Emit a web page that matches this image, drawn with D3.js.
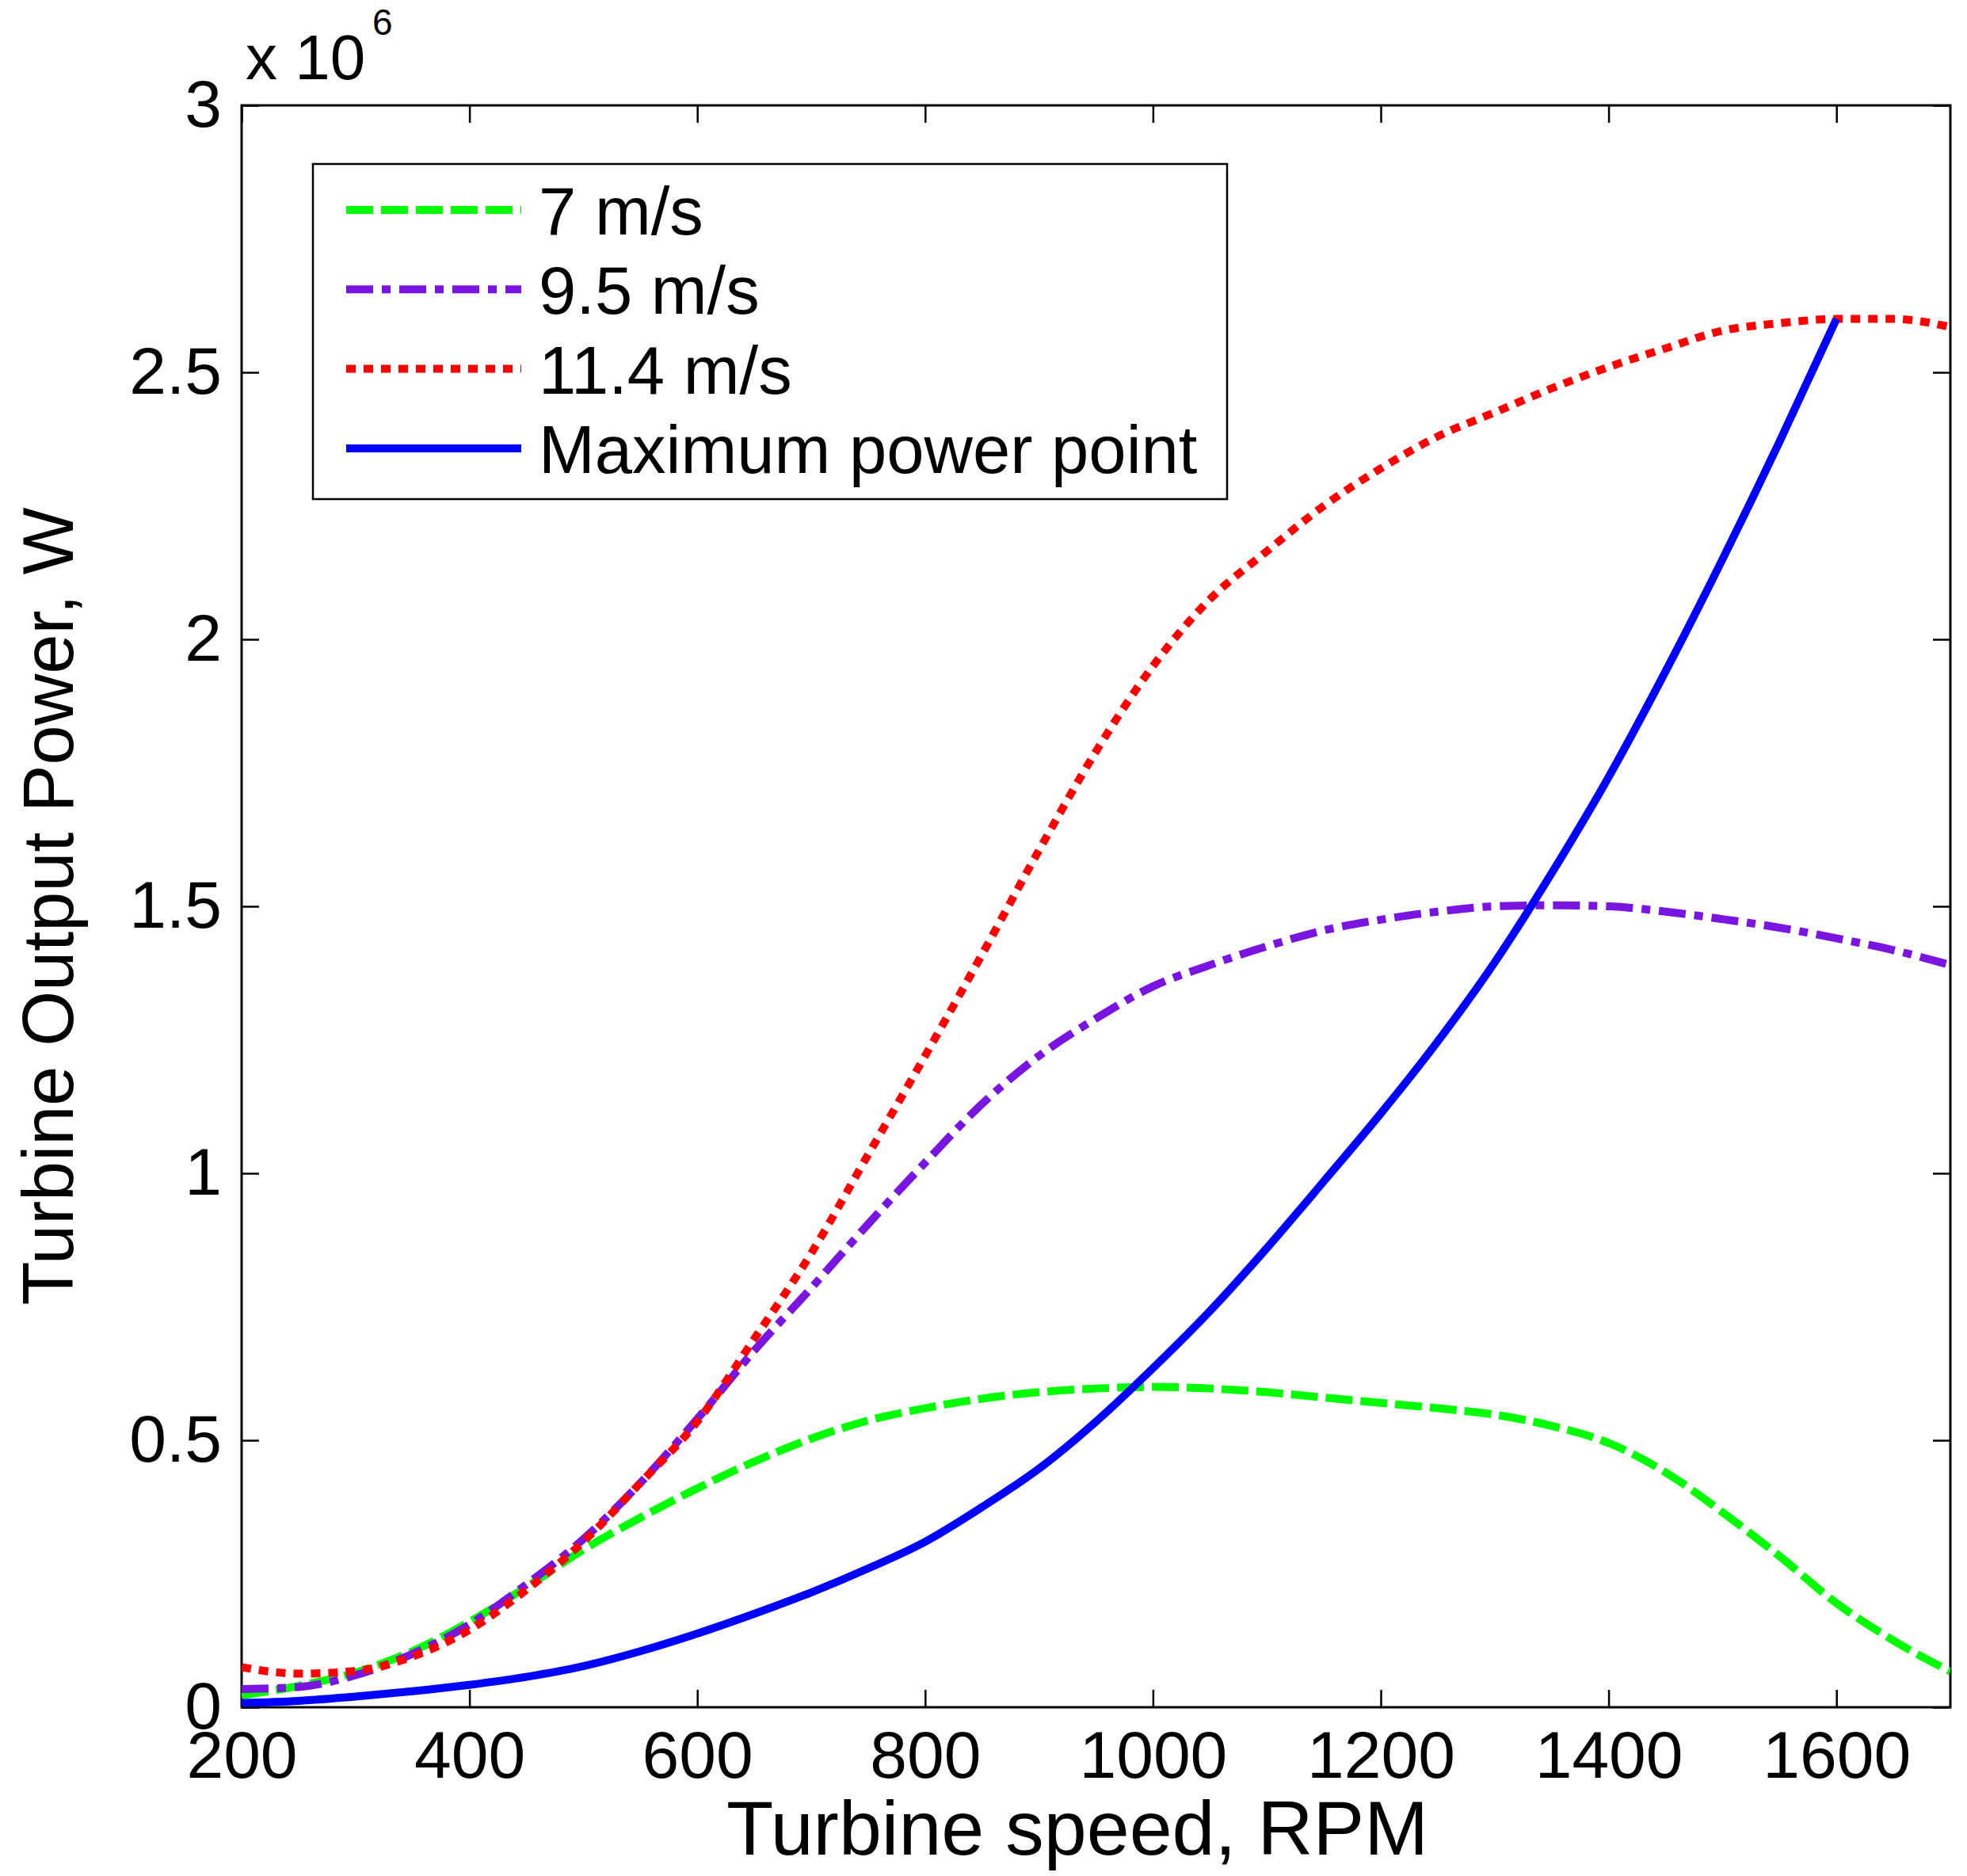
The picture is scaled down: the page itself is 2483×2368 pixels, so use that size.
<!DOCTYPE html>
<html>
<head>
<meta charset="utf-8">
<script src="https://cdn.jsdelivr.net/npm/d3@7"></script>
<style>
	body { margin: 0; background: #fff; }
	svg { display: block; font-family: "Liberation Sans", Arial, Helvetica, sans-serif; }
	.tick line { stroke: #000; stroke-width: 2.5; }
	.tick text { fill: #000; }
</style>
</head>
<body>
<svg id="chart"></svg>
<script>
// turbine speed, RPM (shared by the three wind-speed curves)
const rpm = [200, 250, 300, 350, 400, 450, 500, 550, 600, 650, 700, 750, 800, 850, 900, 950,
	1000, 1050, 1100, 1150, 1200, 1250, 1300, 1350, 1400, 1450, 1500, 1550, 1600, 1650, 1700];

// output power, x 10^6 W
const power7 = [0.022, 0.040, 0.065, 0.105, 0.160, 0.225, 0.295, 0.355, 0.410, 0.460, 0.503, 0.537, 0.560, 0.578, 0.590, 0.597,
	0.600, 0.597, 0.590, 0.580, 0.570, 0.560, 0.548, 0.527, 0.495, 0.440, 0.365, 0.283, 0.195, 0.125, 0.067];
const power95 = [0.034, 0.038, 0.060, 0.100, 0.155, 0.230, 0.315, 0.420, 0.540, 0.668, 0.785, 0.905, 1.020, 1.130, 1.220, 1.290,
	1.350, 1.390, 1.425, 1.455, 1.475, 1.490, 1.500, 1.502, 1.500, 1.490, 1.476, 1.460, 1.440, 1.418, 1.390];
const power114 = [0.075, 0.063, 0.068, 0.095, 0.145, 0.220, 0.310, 0.420, 0.535, 0.690, 0.850, 1.035, 1.220, 1.410, 1.605, 1.790,
	1.950, 2.075, 2.165, 2.250, 2.320, 2.380, 2.425, 2.470, 2.510, 2.545, 2.578, 2.592, 2.600, 2.600, 2.585];

// maximum power point curve
const mppRpm = [200, 250, 300, 350, 400, 450, 500, 550, 600, 650, 700, 750, 800, 850, 900, 950,
	1000, 1050, 1100, 1150, 1200, 1250, 1300, 1350, 1400, 1450, 1500, 1550, 1600];
const mppPower = [0.008, 0.012, 0.020, 0.030, 0.042, 0.057, 0.077, 0.105, 0.138, 0.175, 0.215, 0.260, 0.310, 0.375, 0.447, 0.535,
	0.635, 0.742, 0.860, 0.985, 1.112, 1.247, 1.395, 1.562, 1.742, 1.940, 2.150, 2.370, 2.600];

const seriesNames = ['7 m/s', '9.5 m/s', '11.4 m/s', 'Maximum power point'];
const xTicks = [200, 400, 600, 800, 1000, 1200, 1400, 1600];
const yTicks = [0, 0.5, 1, 1.5, 2, 2.5, 3];

const PowerChart = {
	width: 2483,
	height: 2368,
	margin: { left: 305, right: 21, top: 133, bottom: 213 },
	tickLength: 22,

	draw: function() {
		const self = this;
		let svg = d3.select('#chart')
			.attr('width', self.width)
			.attr('height', self.height);

		svg.append('rect')
			.attr('width', self.width)
			.attr('height', self.height)
			.style('fill', '#fff');

		let plotWidth = self.width - self.margin.left - self.margin.right;
		let plotHeight = self.height - self.margin.top - self.margin.bottom;
		let x = d3.scaleLinear().domain([ 200, 1700 ]).range([ 0, plotWidth ]);
		let y = d3.scaleLinear().domain([ 0, 3 ]).range([ plotHeight, 0 ]);
		let g = svg.append('g')
			.attr('transform', 'translate(' + self.margin.left + ',' + self.margin.top + ')');

		self.drawAxes(g, x, y, plotWidth, plotHeight);
		self.drawLines(svg, g, x, y, plotWidth, plotHeight);
		self.drawLegend(g);
		self.drawTitles(svg, plotWidth, plotHeight);
	},

	series: function() {
		return [
			{ name: seriesNames[0], xs: rpm, ys: power7, color: '#00ff00', dash: '34,10' },
			{ name: seriesNames[1], xs: rpm, ys: power95, color: '#7a14e0', dash: '34,11,11,11' },
			{ name: seriesNames[2], xs: rpm, ys: power114, color: '#ff0000', dash: '12,10' },
			{ name: seriesNames[3], xs: mppRpm, ys: mppPower, color: '#0000ff', dash: null }
		];
	},

	drawAxes: function(g, x, y, plotWidth, plotHeight) {
		const self = this;
		let plain = d3.format('');

		let bottom = g.append('g')
			.attr('transform', 'translate(0,' + plotHeight + ')')
			.call(d3.axisBottom(x).tickValues(xTicks).tickSizeInner(-self.tickLength).tickSizeOuter(0).tickPadding(29)
				.tickFormat(plain));
		let top = g.append('g')
			.call(d3.axisTop(x).tickValues(xTicks).tickSizeInner(-self.tickLength).tickSizeOuter(0).tickFormat(''));
		let left = g.append('g')
			.call(d3.axisLeft(y).tickValues(yTicks).tickSizeInner(-self.tickLength).tickSizeOuter(0).tickPadding(25)
				.tickFormat(plain));
		let right = g.append('g')
			.attr('transform', 'translate(' + plotWidth + ',0)')
			.call(d3.axisRight(y).tickValues(yTicks).tickSizeInner(-self.tickLength).tickSizeOuter(0).tickFormat(''));

		[ bottom, top, left, right ].forEach(function(axis) {
			axis.select('.domain').remove();
			axis.attr('font-family', null).attr('font-size', null);
			axis.selectAll('text').style('font-size', '84px');
		});

		g.append('rect')
			.attr('width', plotWidth)
			.attr('height', plotHeight)
			.style('fill', 'none')
			.style('stroke', '#000')
			.style('stroke-width', 3);

		// exponent label
		let expLabel = g.append('text')
			.attr('x', 5)
			.attr('y', -33)
			.style('font-size', '80px');
		expLabel.append('tspan').text('x 10');
		expLabel.append('tspan')
			.attr('x', 165)
			.attr('y', -89)
			.style('font-size', '46px')
			.text('6');
	},

	drawLines: function(svg, g, x, y, plotWidth, plotHeight) {
		const self = this;

		svg.append('defs').append('clipPath')
			.attr('id', 'plot-clip')
			.append('rect')
			.attr('width', plotWidth)
			.attr('height', plotHeight);

		let line = d3.line()
			.x(function(d) { return x(d[0]); })
			.y(function(d) { return y(d[1]); })
			.curve(d3.curveMonotoneX);

		let lines = g.append('g').attr('clip-path', 'url(#plot-clip)');

		self.series().forEach(function(s) {
			let points = s.xs.map(function(v, i) { return [ v, s.ys[i] ]; });

			lines.append('path')
				.datum(points)
				.attr('d', line)
				.style('fill', 'none')
				.style('stroke', s.color)
				.style('stroke-width', 10)
				.style('stroke-linejoin', 'round')
				.style('stroke-dasharray', s.dash);
		});
	},

	drawLegend: function(g) {
		const self = this;
		let boxX = 395 - self.margin.left;
		let boxY = 207 - self.margin.top;
		let legend = g.append('g');

		legend.append('rect')
			.attr('x', boxX)
			.attr('y', boxY)
			.attr('width', 1154)
			.attr('height', 423)
			.style('fill', '#fff')
			.style('stroke', '#000')
			.style('stroke-width', 2.5);

		self.series().forEach(function(s, i) {
			let baseline = boxY + 89 + i * 100.3;

			legend.append('line')
				.attr('x1', boxX + 42)
				.attr('x2', boxX + 263)
				.attr('y1', baseline - 31)
				.attr('y2', baseline - 31)
				.style('stroke', s.color)
				.style('stroke-width', 10)
				.style('stroke-dasharray', s.dash);

			legend.append('text')
				.attr('x', boxX + 285)
				.attr('y', baseline)
				.style('font-size', '85px')
				.text(s.name);
		});
	},

	drawTitles: function(svg, plotWidth, plotHeight) {
		const self = this;

		svg.append('text')
			.attr('x', 1360)
			.attr('y', 2341)
			.attr('text-anchor', 'middle')
			.style('font-size', '97px')
			.text('Turbine speed, RPM');

		svg.append('text')
			.attr('transform', 'translate(92,' + (self.margin.top + plotHeight / 2) + ') rotate(-90)')
			.attr('text-anchor', 'middle')
			.style('font-size', '90px')
			.text('Turbine Output Power, W');
	}
}

PowerChart.draw();
</script>
</body>
</html>
